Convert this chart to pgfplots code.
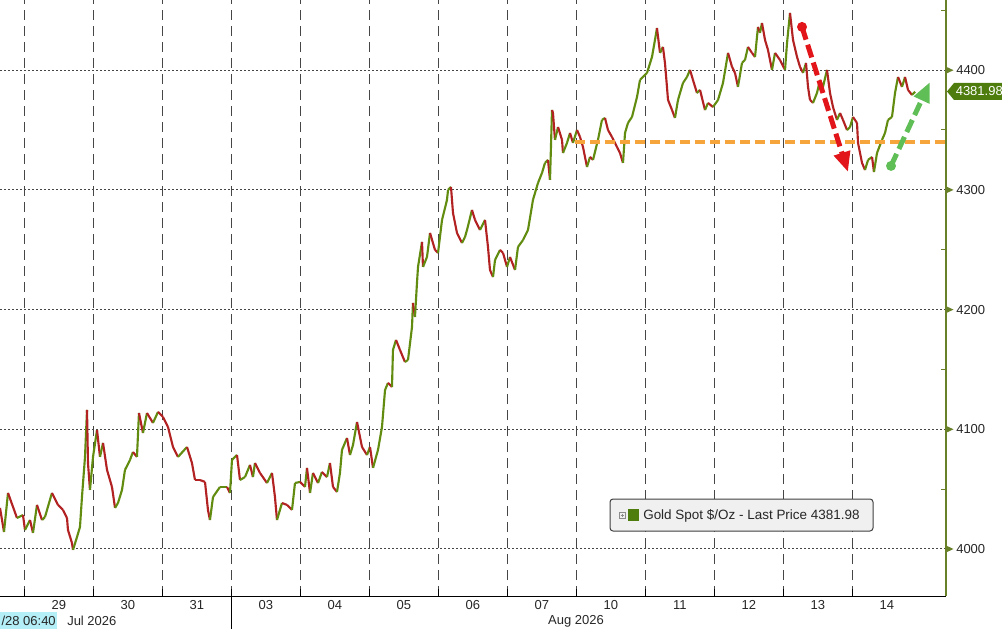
\documentclass[border=0pt]{standalone}
\usepackage{fontspec}
\setmainfont{Liberation Sans}
\usepackage{pgfplots}
\usepackage{pgfplotstable}
\pgfplotsset{compat=1.18}
\usetikzlibrary{arrows.meta}

\definecolor{upgreen}{RGB}{98,140,16}
\definecolor{downred}{RGB}{178,34,34}
\definecolor{axisolive}{RGB}{104,128,40}
\definecolor{taggreen}{RGB}{78,125,14}
\definecolor{levelorange}{RGB}{245,165,60}
\definecolor{arrowred}{RGB}{226,22,26}
\definecolor{arrowgreen}{RGB}{95,190,85}
\definecolor{gridgray}{RGB}{70,70,70}
\definecolor{stampcyan}{RGB}{180,238,246}

\newcommand\lbl{\fontsize{9.75pt}{11pt}\selectfont}

% gold spot, x = trading day (0 = start of Jul 29), c = 1 if next move is up
\pgfplotstableread{
x y c
-0.352 4034.3 0
-0.294 4014.2 1
-0.236 4046.8 0
-0.106 4025.9 1
-0.019 4028.4 0
0.010 4015.9 1
0.083 4024.2 0
0.126 4013.4 1
0.184 4036.8 0
0.257 4024.2 1
0.300 4026.7 1
0.401 4046.8 0
0.488 4036.8 0
0.561 4032.6 0
0.619 4025.9 0
0.633 4015.9 0
0.691 4005.0 0
0.706 3999.2 1
0.764 4010.0 1
0.807 4018.4 1
0.836 4043.4 1
0.880 4076.9 1
0.909 4116.1 0
0.923 4071.8 0
0.952 4049.3 1
0.996 4076.9 1
1.054 4099.4 0
1.097 4076.9 1
1.141 4088.6 0
1.199 4066.0 0
1.271 4051.8 0
1.315 4034.3 1
1.358 4038.4 1
1.416 4049.3 1
1.459 4066.0 1
1.532 4074.4 1
1.575 4081.0 0
1.633 4076.9 1
1.662 4113.6 0
1.720 4096.9 1
1.778 4113.6 0
1.865 4105.3 1
1.938 4114.5 0
2.010 4110.3 0
2.083 4101.9 0
2.155 4085.2 0
2.228 4076.9 1
2.358 4085.2 0
2.430 4071.8 0
2.474 4057.6 0
2.546 4057.6 0
2.619 4056.0 0
2.662 4032.6 0
2.691 4024.2 1
2.735 4043.4 1
2.836 4051.8 1
2.938 4051.8 0
2.981 4046.8 1
3.010 4074.4 1
3.083 4078.5 0
3.126 4057.6 1
3.199 4060.1 1
3.271 4070.2 0
3.314 4060.1 1
3.343 4071.8 0
3.416 4063.5 0
3.517 4055.1 1
3.590 4063.5 0
3.633 4043.4 0
3.662 4024.2 1
3.735 4038.4 0
3.807 4036.8 0
3.880 4032.6 1
3.923 4055.1 1
3.996 4056.0 0
4.068 4051.8 1
4.097 4067.7 0
4.141 4046.8 1
4.184 4063.5 0
4.257 4055.1 1
4.314 4064.3 0
4.387 4060.1 1
4.430 4071.8 0
4.474 4051.8 0
4.532 4047.6 1
4.575 4063.5 1
4.604 4082.7 1
4.677 4092.7 0
4.720 4078.5 1
4.764 4086.9 1
4.822 4106.1 0
4.894 4085.2 0
4.967 4078.5 1
5.010 4085.2 0
5.054 4067.7 1
5.126 4082.7 1
5.184 4101.9 1
5.228 4132.8 1
5.271 4138.7 0
5.329 4135.3 1
5.343 4166.2 1
5.387 4174.6 0
5.445 4166.2 0
5.517 4156.2 1
5.561 4157.9 1
5.619 4185.5 1
5.633 4205.5 0
5.662 4193.8 1
5.691 4222.2 1
5.706 4235.6 1
5.764 4256.5 0
5.778 4235.6 1
5.836 4243.9 1
5.880 4264.0 0
5.952 4249.8 0
5.996 4247.3 1
6.054 4274.9 1
6.126 4291.6 1
6.141 4299.9 1
6.184 4302.4 0
6.213 4280.7 0
6.271 4264.0 0
6.343 4255.6 1
6.387 4260.6 1
6.416 4266.5 1
6.488 4283.2 0
6.532 4274.9 0
6.604 4266.5 1
6.677 4274.9 0
6.720 4252.3 0
6.749 4233.1 0
6.793 4227.2 1
6.822 4241.4 1
6.894 4249.8 0
6.938 4247.3 0
6.996 4235.6 1
7.039 4243.9 0
7.112 4233.1 1
7.155 4252.3 1
7.228 4258.1 1
7.300 4266.5 1
7.372 4291.6 1
7.445 4305.8 1
7.503 4314.1 1
7.546 4322.5 1
7.590 4325.0 0
7.619 4308.3 1
7.648 4366.7 0
7.662 4364.2 0
7.691 4341.7 1
7.735 4352.5 0
7.793 4341.7 0
7.807 4330.8 1
7.865 4339.2 1
7.909 4347.5 0
7.952 4339.2 1
8.010 4350.0 0
8.054 4344.2 0
8.097 4335.8 0
8.155 4319.1 1
8.199 4327.5 0
8.242 4325.0 1
8.314 4341.7 1
8.372 4358.4 1
8.416 4360.1 0
8.459 4350.0 0
8.517 4344.2 0
8.590 4335.8 0
8.633 4330.8 0
8.677 4322.5 1
8.706 4347.5 1
8.749 4355.9 1
8.807 4360.9 1
8.880 4377.6 1
8.923 4391.8 1
9.025 4397.7 1
9.097 4411.0 1
9.140 4425.2 1
9.169 4435.2 0
9.213 4414.4 1
9.256 4419.4 0
9.285 4406.0 0
9.314 4386.0 0
9.329 4375.1 0
9.387 4366.7 0
9.430 4360.1 1
9.474 4375.1 1
9.546 4389.3 1
9.604 4394.3 1
9.648 4400.2 0
9.691 4391.8 0
9.749 4380.9 1
9.793 4383.5 0
9.865 4366.7 1
9.909 4372.6 0
9.981 4369.2 1
10.054 4375.1 1
10.126 4389.3 1
10.199 4414.4 0
10.257 4402.7 0
10.300 4397.7 0
10.343 4386.0 1
10.401 4406.0 1
10.445 4408.5 1
10.488 4419.4 0
10.546 4414.4 0
10.590 4411.0 1
10.633 4436.1 0
10.662 4431.1 1
10.691 4439.4 0
10.735 4425.2 0
10.778 4416.9 0
10.836 4400.2 1
10.880 4414.4 0
10.952 4408.5 0
11.025 4400.2 1
11.054 4422.7 1
11.097 4447.8 0
11.141 4425.2 0
11.199 4411.0 0
11.242 4402.7 0
11.286 4397.7 1
11.329 4406.0 0
11.358 4386.0 0
11.387 4375.1 0
11.430 4372.6 1
11.488 4380.9 1
11.533 4391.8 0
11.575 4386.0 1
11.633 4400.2 0
11.677 4380.9 0
11.720 4369.2 0
11.778 4358.4 1
11.822 4364.2 0
11.865 4358.4 0
11.923 4350.0 1
11.967 4352.5 1
12.010 4360.9 0
12.068 4355.9 0
12.083 4339.2 0
12.141 4322.5 0
12.184 4316.6 1
12.228 4325.0 1
12.286 4327.5 0
12.314 4314.9 1
12.358 4330.8 1
12.430 4341.7 1
12.474 4347.5 1
12.517 4358.4 1
12.575 4360.9 1
12.619 4380.9 1
12.662 4394.3 0
12.720 4386.0 1
12.764 4394.3 0
12.807 4383.5 0
12.865 4379.3 1
12.909 4381.98 0
}\gold

\begin{document}
\begin{tikzpicture}
\path[use as bounding box] (0pt,-24.75pt) rectangle (751.5pt,447pt);
\begin{axis}[
  at={(0pt,0pt)}, anchor=south west,
  width=709.5pt, height=447pt, scale only axis,
  xmin=-0.352, xmax=13.358, ymin=3960.7, ymax=4458.6,
  axis line style={draw=none},
  xtick={0,1,...,12}, xticklabels={},
  extra x ticks={0.5,1.5,...,12.5},
  extra x tick labels={29,30,31,03,04,05,06,07,10,11,12,13,14},
  extra x tick style={grid=none, major tick length=0pt},
  xtick pos=left, ytick pos=right, yticklabel pos=right,
  tick align=inside,
  major tick length=5.25pt,
  major x tick style={black, line width=0.75pt},
  ytick={4000,4100,...,4400},
  minor ytick={3950,4050,...,4450},
  major y tick style={draw=none},
  minor y tick style={axisolive, line width=0.75pt},
  minor tick length=3.75pt,
  xmajorgrids, ymajorgrids,
  major x grid style={gridgray, line width=0.75pt, dash pattern=on 7.5pt off 4.5pt},
  major y grid style={gridgray, line width=0.75pt, dash pattern=on 1.5pt off 1.5pt},
  ticklabel style={font=\lbl, text=black!85},
  yticklabel style={anchor=west, inner sep=0pt, xshift=7.5pt},
  xticklabel style={anchor=north, inner sep=0pt, yshift=-3pt},
  /pgf/number format/assume math mode=true,
  /pgf/number format/1000 sep={},
  colormap={updown}{rgb255=(178,34,34) rgb255=(98,140,16)},
  point meta min=0, point meta max=1,
]
\addplot[mesh, shader=flat corner, point meta=explicit, line width=1.6pt, line join=round]
  table[x=x, y=y, meta=c]{\gold};
\addplot[levelorange, line width=3pt, dash pattern=on 7.5pt off 3.75pt]
  coordinates {(7.98,4340) (13.358,4340)};
% trend arrows
\fill[arrowred] (axis cs:11.271,4436.1) circle[radius=3.75pt];
\draw[arrowred, line width=3.75pt, dash pattern=on 10pt off 4pt,
  -{Triangle[length=15pt,width=12pt]}]
  (axis cs:11.271,4436.1) -- (axis cs:11.938,4314.9);
\fill[arrowgreen] (axis cs:12.561,4320.0) circle[radius=3.75pt];
\draw[arrowgreen, line width=3.75pt, dash pattern=on 10pt off 4pt,
  -{Triangle[length=15pt,width=12pt]}]
  (axis cs:12.561,4320.0) -- (axis cs:13.126,4390.1);
\end{axis}

% frame bits, in pixels of the 1002x629 picture
\begin{scope}[x=0.75pt, y=-0.75pt, shift={(0pt,447pt)}]
  \draw[axisolive, line width=0.9pt] (946,0) -- (946,596);
  \draw[black, line width=0.75pt] (0,596) -- (946,596);
  \draw[black, line width=0.75pt] (231.3,596) -- (231.3,629);
  \foreach \py in {70.2,189.9,309.6,429.3,549} {
    \fill[axisolive] (946,\py-3.5) -- (953.5,\py) -- (946,\py+3.5) -- cycle;
  }
  % last price tag
  \fill[taggreen] (947,91.5) -- (954,83) -- (1003,83) -- (1003,100) -- (954,100) -- cycle;
  \node[anchor=west, inner sep=0pt, text=white, font=\lbl] at (955.5,91.5) {4381.98};
  % months and time stamp
  \fill[stampcyan] (0,612) rectangle (57,629);
  \node[anchor=east, inner sep=0pt, font=\lbl, text=black!85] at (56,621) {/28 06:40};
  \node[anchor=west, inner sep=0pt, font=\lbl, text=black!85] at (67,621) {Jul 2026};
  \node[inner sep=0pt, font=\lbl, text=black!85] at (576,621) {Aug 2026};
  % legend
  \draw[draw=black!75, fill=black!6, rounded corners=2.25pt, line width=0.75pt]
    (610,499) rectangle (873,531);
  \draw[black!45, line width=0.5pt] (619,512) rectangle (625,518);
  \draw[black!45, line width=0.5pt] (620.5,515) -- (623.5,515) (622,513.5) -- (622,516.5);
  \fill[taggreen] (628,509) rectangle (639,521);
  \node[anchor=west, inner sep=0pt, font=\fontsize{10.1pt}{12pt}\selectfont, text=black!85]
    at (643,515.5) {Gold Spot \$/Oz - Last Price 4381.98};
\end{scope}
\end{tikzpicture}
\end{document}
